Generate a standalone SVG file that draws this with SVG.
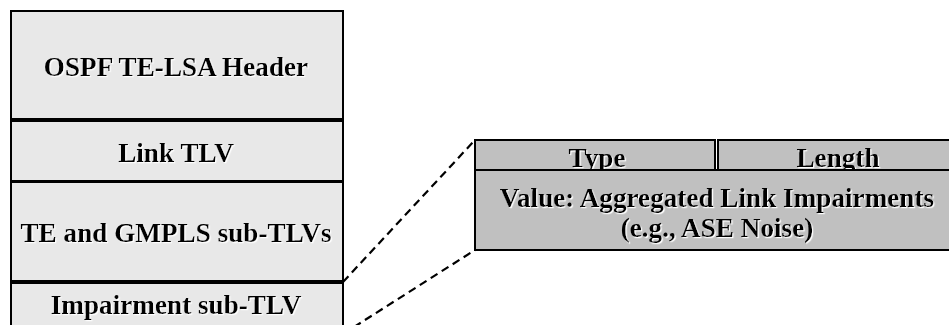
<svg xmlns="http://www.w3.org/2000/svg" width="949" height="325" viewBox="0 0 949 325">
  <defs>
    <filter id="halo" x="-5%" y="-20%" width="110%" height="140%">
      <feDropShadow dx="1.2" dy="1.2" stdDeviation="0.3" flood-color="#ffffff" flood-opacity="1"/>
    </filter>
  </defs>
  <style>
    .lbox { fill: #e8e8e8; stroke: #000; stroke-width: 2; }
    .rbox { fill: #c0c0c0; stroke: #000; stroke-width: 2; }
    .lbl { font-family: "Liberation Serif", "Times New Roman", serif; font-weight: bold; font-size: 27.2px; fill: #000; text-anchor: middle; filter: url(#halo); }
    .conn { fill: none; stroke: #000; stroke-width: 2.2; stroke-dasharray: 8 5; }
  </style>

  <g id="connectors">
    <line class="conn" x1="343" y1="282" x2="475" y2="140"/>
    <line class="conn" x1="343" y1="334" x2="475" y2="250"/>
  </g>

  <g id="ospf-header">
    <rect class="lbox" x="11" y="11" width="332" height="108"/>
    <text class="lbl" x="176" y="76">OSPF TE-LSA Header</text>
  </g>
  <g id="link-tlv">
    <rect class="lbox" x="11" y="121" width="332" height="60"/>
    <text class="lbl" x="176" y="162">Link TLV</text>
  </g>
  <g id="te-gmpls">
    <rect class="lbox" x="11" y="182" width="332" height="99"/>
    <text class="lbl" x="176" y="242">TE and GMPLS sub-TLVs</text>
  </g>
  <g id="impairment">
    <rect class="lbox" x="11" y="283" width="332" height="60"/>
    <text class="lbl" x="176" y="314">Impairment sub-TLV</text>
  </g>

  <g id="type">
    <rect class="rbox" x="475" y="140" width="240" height="30"/>
    <text class="lbl" x="597" y="167">Type</text>
  </g>
  <g id="length">
    <rect class="rbox" x="718" y="140" width="245" height="30"/>
    <text class="lbl" x="838" y="167">Length</text>
  </g>
  <g id="value">
    <rect class="rbox" x="475" y="170" width="488" height="80"/>
    <text class="lbl" x="717" y="207">Value: Aggregated Link Impairments</text>
    <text class="lbl" x="717" y="237">(e.g., ASE Noise)</text>
  </g>
</svg>
